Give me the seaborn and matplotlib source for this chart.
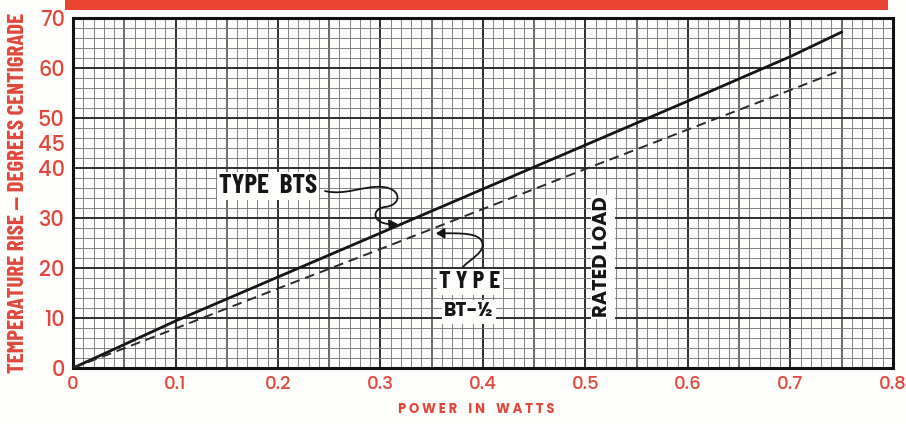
import numpy as np
import pandas as pd
import matplotlib
matplotlib.use("Agg")
import matplotlib.pyplot as plt
import seaborn as sns
from matplotlib.path import Path
from matplotlib.patches import FancyArrowPatch, Rectangle

# Temperature rise versus dissipated power for the two resistor types
power_w = [0.0, 0.1, 0.2, 0.3, 0.4, 0.5, 0.6, 0.7, 0.75]
rise_bts = [0.0, 9.4, 18.2, 27.0, 35.8, 44.6, 53.4, 62.3, 67.2]
rise_bt_half = [0.0, 7.9, 15.9, 23.8, 31.8, 39.8, 47.7, 55.6, 59.6]
series_names = ["TYPE BTS", "TYPE BT-½"]

x_ticks = [0.0, 0.1, 0.2, 0.3, 0.4, 0.5, 0.6, 0.7, 0.8]
x_tick_labels = ["0", "0.1", "0.2", "0.3", "0.4", "0.5", "0.6", "0.7", "0.8"]
y_ticks = [0, 10, 20, 30, 40, 45, 50, 60, 70]
y_tick_labels = ["0", "10", "20", "30", "40", "45", "50", "60", "70"]

RED = "#e0473a"
INK = "#151515"
PAPER = "#fdfdfb"
NARROW = ["Barlow Condensed", "Asap Condensed", "Liberation Sans Narrow", "DejaVu Sans"]
ROUND = ["Poppins", "Lato", "DejaVu Sans"]

sns.set_theme(style="white")
plt.rcParams["font.family"] = ROUND

fig = plt.figure(figsize=(9.06, 4.24), dpi=100)
fig.patch.set_facecolor(PAPER)
W, H = 906, 424
ax = fig.add_axes([73 / W, 1 - 368 / H, (893 - 73) / W, (368 - 18) / H])
ax.set_facecolor(PAPER)
ax.set_xlim(0, 0.8)
ax.set_ylim(0, 70)

# graph-paper ruling
for i in range(81):
    xv = i / 100
    if i % 10 == 0:
        lw, c = 1.4, "#2e2e2e"
    elif i % 5 == 0:
        lw, c = 1.1, "#404040"
    else:
        lw, c = 0.65, "#7a7a7a"
    ax.axvline(xv, color=c, lw=lw, zorder=0.5)
for j in range(36):
    yv = 2 * j
    if yv % 10 == 0:
        lw, c = 1.4, "#2e2e2e"
    else:
        lw, c = 0.65, "#7a7a7a"
    ax.axhline(yv, color=c, lw=lw, zorder=0.5)

n = len(power_w)
df = pd.DataFrame({
    "power": power_w * 2,
    "rise": rise_bts + rise_bt_half,
    "type": [series_names[0]] * n + [series_names[1]] * n,
})
sns.lineplot(data=df[df["type"] == series_names[0]], x="power", y="rise",
             color=INK, lw=2.0, ax=ax, legend=False, zorder=3)
sns.lineplot(data=df[df["type"] == series_names[1]], x="power", y="rise",
             color="#2a2a2a", lw=1.4, ax=ax, legend=False, zorder=3,
             linestyle=(0, (5, 3)))

for s in ax.spines.values():
    s.set_color("#111111")
    s.set_linewidth(2.2)
    s.set_visible(True)

ax.set_xticks(x_ticks, x_tick_labels)
ax.set_yticks(y_ticks, y_tick_labels)
ax.tick_params(axis="both", length=0, labelcolor=RED)
ax.tick_params(axis="x", labelsize=13, pad=6)
ax.tick_params(axis="y", labelsize=15, pad=6)
for lab in ax.get_xticklabels() + ax.get_yticklabels():
    lab.set_fontweight("medium")
ax.set_xlabel("")
ax.set_ylabel("")


def to_data(xp, yp):
    return ((xp - 73) / 1025.0, (368 - yp) / 5.0)


box = dict(facecolor=PAPER, edgecolor="none", pad=1.5)

ax.text(*to_data(268, 186), "TYPE  BTS", ha="center", va="center",
        fontsize=19.5, fontweight="bold", family=NARROW, color=INK, bbox=box, zorder=4)
ax.text(*to_data(470, 282), "T Y P E", ha="center", va="center",
        fontsize=18, fontweight="bold", family=NARROW, color=INK, bbox=box, zorder=4)
ax.text(*to_data(469, 312), "BT-½", ha="center", va="center",
        fontsize=13.5, fontweight="bold", family=ROUND, color=INK, bbox=box, zorder=4)
ax.text(*to_data(603, 257), "RATED LOAD", ha="center", va="center", rotation=90,
        fontsize=14, fontweight="bold", family=ROUND, color=INK,
        bbox=box, zorder=4)

# curly pointer arrows to each curve
tip_bts_x = 0.317
tip_bts = (tip_bts_x, float(np.interp(tip_bts_x, power_w, rise_bts)) + 0.3)
verts = [to_data(325, 191), to_data(345, 196), to_data(365, 185), to_data(383, 187),
         to_data(402, 189), to_data(402, 205), to_data(385, 207),
         to_data(370, 209), to_data(372, 226), tip_bts]
codes = [Path.MOVETO] + [Path.CURVE4] * 9
ax.add_patch(FancyArrowPatch(path=Path(verts, codes), arrowstyle="-|>,head_length=5,head_width=3",
                             color=INK, lw=1.3, zorder=5))

tip_bt_x = 0.354
tip_bt = (tip_bt_x, float(np.interp(tip_bt_x, power_w, rise_bt_half)) - 1.2)
verts2 = [to_data(463, 267), to_data(470, 259), to_data(486, 252), to_data(482, 242),
          to_data(479, 233), to_data(462, 233), tip_bt]
codes2 = [Path.MOVETO] + [Path.CURVE4] * 6
ax.add_patch(FancyArrowPatch(path=Path(verts2, codes2), arrowstyle="-|>,head_length=5,head_width=3",
                             color=INK, lw=1.3, zorder=5))

# axis titles
fig.text(18 / W, 1 - 193 / H, "TEMPERATURE RISE — DEGREES CENTIGRADE", rotation=90,
         ha="center", va="center", fontsize=16.5, fontweight="bold", family=NARROW, color=RED)
fig.text(476 / W, 1 - 410 / H, "P O W E R    I N    W A T T S", ha="center", va="center",
         fontsize=9.5, fontweight="bold", family=ROUND, color=RED)

# red heading band
fig.patches.append(Rectangle((65 / W, 1 - 10 / H), (888 - 65) / W, 10 / H,
                             transform=fig.transFigure, facecolor="#ea4530",
                             edgecolor="none", zorder=0))

fig.savefig("out.png", dpi=100, facecolor=fig.get_facecolor())
